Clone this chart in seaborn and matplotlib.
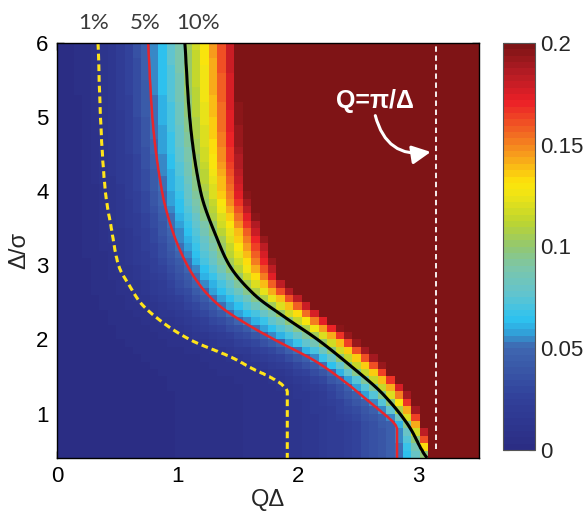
import numpy as np
import pandas as pd
import matplotlib
matplotlib.use("Agg")
import matplotlib.pyplot as plt
from matplotlib.colors import LinearSegmentedColormap
import seaborn as sns

# ---- data: x position (QΔ) where the error reaches each level, per Δ/σ ----
level_values = [0.01, 0.05, 0.10, 0.20]
base_value = 0.001            # value at QΔ = 0
end_value = 1.0               # value at QΔ = 3.6 (saturated)

y01 = [0.4, 1.30, 1.40, 1.50, 1.60, 1.75, 2.0, 2.25, 2.5, 2.7, 3.0, 3.5, 4.0, 5.0, 6.0]
x01 = [1.91, 1.91, 1.86, 1.76, 1.63, 1.46, 1.10, 0.86, 0.69, 0.61, 0.51, 0.45, 0.40, 0.36, 0.34]

y05 = [0.4, 0.80, 0.90, 1.0, 1.2, 1.4, 1.7, 2.0, 2.2, 2.45, 2.7, 3.0, 3.5, 4.0, 5.0, 6.0]
x05 = [2.82, 2.82, 2.78, 2.71, 2.56, 2.41, 2.15, 1.80, 1.58, 1.35, 1.20, 1.08, 0.95, 0.87, 0.79, 0.755]

y10 = [0.4, 0.5, 0.8, 1.25, 1.65, 2.0, 2.3, 2.6, 3.0, 3.35, 4.0, 5.0, 6.0]
x10 = [3.07, 3.03, 2.93, 2.71, 2.43, 2.16, 1.89, 1.64, 1.43, 1.33, 1.19, 1.10, 1.06]

y20 = [0.4, 0.5, 0.85, 1.3, 1.65, 2.05, 2.4, 2.8, 3.35, 4.0, 5.0, 6.0]
x20 = [3.12, 3.10, 3.04, 2.90, 2.71, 2.43, 2.16, 1.88, 1.74, 1.58, 1.52, 1.50]

contour_labels = ["1%", "5%", "10%"]
x_ticks = [0, 1, 2, 3]
y_ticks = [1, 2, 3, 4, 5, 6]
cbar_ticks = [0, 0.05, 0.1, 0.15, 0.2]
cbar_ticklabels = ["0", "0.05", "0.1", "0.15", "0.2"]
pi_line_x = np.pi

# grid
dx, dy = 0.07, 0.1
x0, x1, y0, y1 = 0.0, 3.5, 0.4, 6.0
xe = np.arange(x0, x1 + 1e-9, dx)
ye = np.arange(y0, y1 + 1e-9, dy)
xc = xe[:-1] + dx / 2
yc = ye[:-1] + dy / 2


def pchip(xk, yk, x):
    xk = np.asarray(xk, float)
    yk = np.asarray(yk, float)
    x = np.clip(np.asarray(x, float), xk[0], xk[-1])
    h = np.diff(xk)
    d = np.diff(yk) / h
    n = len(xk)
    m = np.zeros(n)
    for k in range(1, n - 1):
        if d[k - 1] * d[k] > 0:
            w1 = 2 * h[k] + h[k - 1]
            w2 = h[k] + 2 * h[k - 1]
            m[k] = (w1 + w2) / (w1 / d[k - 1] + w2 / d[k])
    m[0] = d[0] if d[0] * (d[1] if n > 2 else d[0]) > 0 else 0.0
    m[-1] = d[-1] if d[-1] * (d[-2] if n > 2 else d[-1]) > 0 else 0.0
    i = np.clip(np.searchsorted(xk, x) - 1, 0, n - 2)
    t = (x - xk[i]) / h[i]
    h00 = 2 * t**3 - 3 * t**2 + 1
    h10 = t**3 - 2 * t**2 + t
    h01 = -2 * t**3 + 3 * t**2
    h11 = t**3 - t**2
    return h00 * yk[i] + h10 * h[i] * m[i] + h01 * yk[i + 1] + h11 * h[i] * m[i + 1]


def field(xs, ys):
    Z = np.empty((len(ys), len(xs)))
    lv = np.log10([base_value] + level_values + [end_value])
    p01 = pchip(y01, x01, ys)
    p05 = pchip(y05, x05, ys)
    p10 = pchip(y10, x10, ys)
    p20 = pchip(y20, x20, ys)
    for j in range(len(ys)):
        p = [0.0, p01[j], p05[j], p10[j], p20[j], 3.6]
        Z[j] = 10 ** np.interp(xs, p, lv)
    return Z


Z = field(xc, yc)
df = pd.DataFrame(Z, index=np.round(yc, 2), columns=np.round(xc, 3))


def fx(x):
    return (np.asarray(x) - x0) / dx


def fy(y):
    return (np.asarray(y) - y0) / dy


stops = [(0.0, '#2b2d84'), (0.12, '#31409a'), (0.25, '#3f68b1'), (0.29, '#2fa8de'),
         (0.32, '#2ec3f0'), (0.38, '#61c4cf'), (0.45, '#7dc6a8'), (0.5, '#92c770'),
         (0.56, '#bcd530'), (0.63, '#f0e415'), (0.66, '#fde40a'), (0.72, '#f8a51b'),
         (0.78, '#f26b22'), (0.86, '#ec2027'), (0.93, '#b61c24'), (1.0, '#7f1416')]
cmap = LinearSegmentedColormap.from_list('mjet', stops, N=64)

sns.set_style("white")
plt.rcParams['font.family'] = ['Liberation Sans', 'DejaVu Sans']

fig = plt.figure(figsize=(5.84, 5.13), dpi=100)
ax = fig.add_axes([57 / 584, 1 - 458 / 513, (479 - 57) / 584, (458 - 43) / 513])
cax = fig.add_axes([503 / 584, 1 - 450 / 513, 32 / 584, (450 - 43) / 513])

sns.heatmap(df, ax=ax, cmap=cmap, vmin=0, vmax=0.2, cbar_ax=cax,
            xticklabels=False, yticklabels=False)
ax.set_xlim(0, len(xc))
ax.set_ylim(0, len(yc))
for s in ax.spines.values():
    s.set_visible(True)
    s.set_color('black')
    s.set_linewidth(1.0)

# contours
xf = np.linspace(x0, x1, 351)
yf = np.linspace(y0, y1, 281)
Zf = field(xf, yf)
XF, YF = np.meshgrid(fx(xf), fy(yf))
ax.contour(XF, YF, Zf, levels=[level_values[0]], colors=['#ffe41a'],
           linewidths=2.2, linestyles=[(0, (2.2, 1.3))])
ax.contour(XF, YF, Zf, levels=[level_values[1]], colors=['#e8262b'], linewidths=1.8)
ax.contour(XF, YF, Zf, levels=[level_values[2]], colors=['black'], linewidths=2.2)

# Q = pi / Delta line
ax.plot([fx(pi_line_x)] * 2, [fy(0.52), fy(6.0)], color='white', lw=1.3,
        ls=(0, (3, 2)))
ax.text(fx(2.64), fy(5.22), "Q=π/Δ", color='white', fontsize=18, fontweight='bold',
        ha='center', va='center')
ax.annotate("", xy=(fx(3.10), fy(4.53)), xytext=(fx(2.64), fy(5.02)),
            arrowprops=dict(arrowstyle="-|>", color='white', lw=2.2,
                            connectionstyle="arc3,rad=0.45", mutation_scale=28,
                            shrinkA=0, shrinkB=0))

ax.set_xticks(fx(x_ticks))
ax.set_xticklabels([str(t) for t in x_ticks])
ax.set_yticks(fy(y_ticks))
ax.set_yticklabels([str(t) for t in y_ticks], rotation=0)
ax.tick_params(direction='in', length=5, width=1, top=True, right=True,
               bottom=True, left=True, labelsize=16, pad=6, colors='black')
ax.set_xlabel("QΔ", fontsize=17)
ax.xaxis.set_label_coords(0.5, -0.075)
ax.set_ylabel("Δ/σ", fontsize=17, labelpad=4)

cbar = ax.collections[0].colorbar
cbar.set_ticks(cbar_ticks)
cbar.set_ticklabels(cbar_ticklabels)
cbar.ax.tick_params(direction='in', length=4, labelsize=16, left=True, right=True)
cbar.outline.set_edgecolor('#555555')
cbar.outline.set_linewidth(0.8)

for lab, px in zip(contour_labels, [94, 145, 198]):
    fig.text(px / 584, 1 - 23 / 513, lab, fontsize=16, color='#3a3a3a',
             ha='center', va='center', family=['Lato', 'DejaVu Sans'])

fig.savefig("out.png", dpi=100)
